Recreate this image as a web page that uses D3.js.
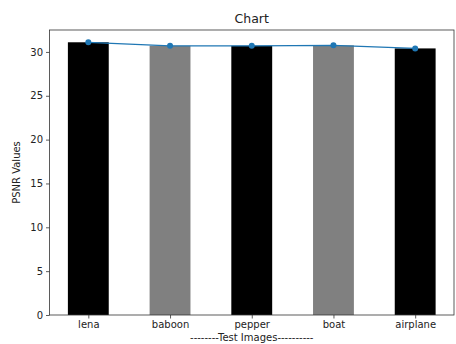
<!DOCTYPE html>
<html><head><meta charset="utf-8">
<script src="https://cdn.jsdelivr.net/npm/d3@7"></script>
<style>body{margin:0;background:#fff}svg{display:block;font-family:"DejaVu Sans",sans-serif}</style>
</head><body><svg id="c" width="456" height="344"></svg>
<script>
const categories = ["lena","baboon","pepper","boat","airplane"];
const psnr = [31.1, 30.7, 30.7, 30.75, 30.4];
const barColors = ["#000000","#808080","#000000","#808080","#000000"];
const yTicks = [0,5,10,15,20,25,30];

const svg = d3.select("#c");
const L = 49.5, R = 454, T = 30, B = 315;
const x = d3.scaleLinear().domain([-0.475, 4.475]).range([L, R]);
const y = d3.scaleLinear().domain([0, 32.5]).range([B, T]);
const bw = 0.5;

svg.append("g").selectAll("rect").data(psnr).join("rect")
  .attr("x", (d,i)=>x(i-bw/2)).attr("width", (d,i)=>x(i+bw/2)-x(i-bw/2))
  .attr("y", d=>y(d)).attr("height", d=>y(0)-y(d))
  .attr("fill", (d,i)=>barColors[i]);

const line = d3.line().x((d,i)=>x(i)).y(d=>y(d));
svg.append("path").datum(psnr).attr("d", line).attr("fill","none")
  .attr("stroke","#1f77b4").attr("stroke-width",1.3);
svg.append("g").selectAll("circle").data(psnr).join("circle")
  .attr("cx",(d,i)=>x(i)).attr("cy",d=>y(d)).attr("r",3).attr("fill","#1f77b4");

// frame
svg.append("rect").attr("x",L).attr("y",T).attr("width",R-L).attr("height",B-T)
  .attr("fill","none").attr("stroke","#333").attr("stroke-width",0.8);

const xa = svg.append("g").attr("transform",`translate(0,${B})`)
  .call(d3.axisBottom(x).tickValues(d3.range(categories.length)).tickFormat(i=>categories[i]).tickSize(3.5).tickPadding(2.5));
const ya = svg.append("g").attr("transform",`translate(${L},0)`)
  .call(d3.axisLeft(y).tickValues(yTicks).tickSize(3.5).tickPadding(3));
[xa,ya].forEach(a=>{
  a.select(".domain").remove();
  a.selectAll("text").attr("font-size",10).attr("fill","#222").attr("font-family","DejaVu Sans");
  a.selectAll("line").attr("stroke","#333").attr("stroke-width",0.8);
});

svg.append("text").attr("x",(L+R)/2).attr("y",22.5).attr("text-anchor","middle")
  .attr("font-size",12.5).attr("fill","#222").text("Chart");
svg.append("text").attr("x",(L+R)/2).attr("y",340.5).attr("text-anchor","middle")
  .attr("font-size",10).attr("fill","#222").text("--------Test Images----------");
svg.append("text").attr("transform",`translate(20,${(T+B)/2}) rotate(-90)`).attr("text-anchor","middle")
  .attr("font-size",10).attr("fill","#222").text("PSNR Values");
</script></body></html>
